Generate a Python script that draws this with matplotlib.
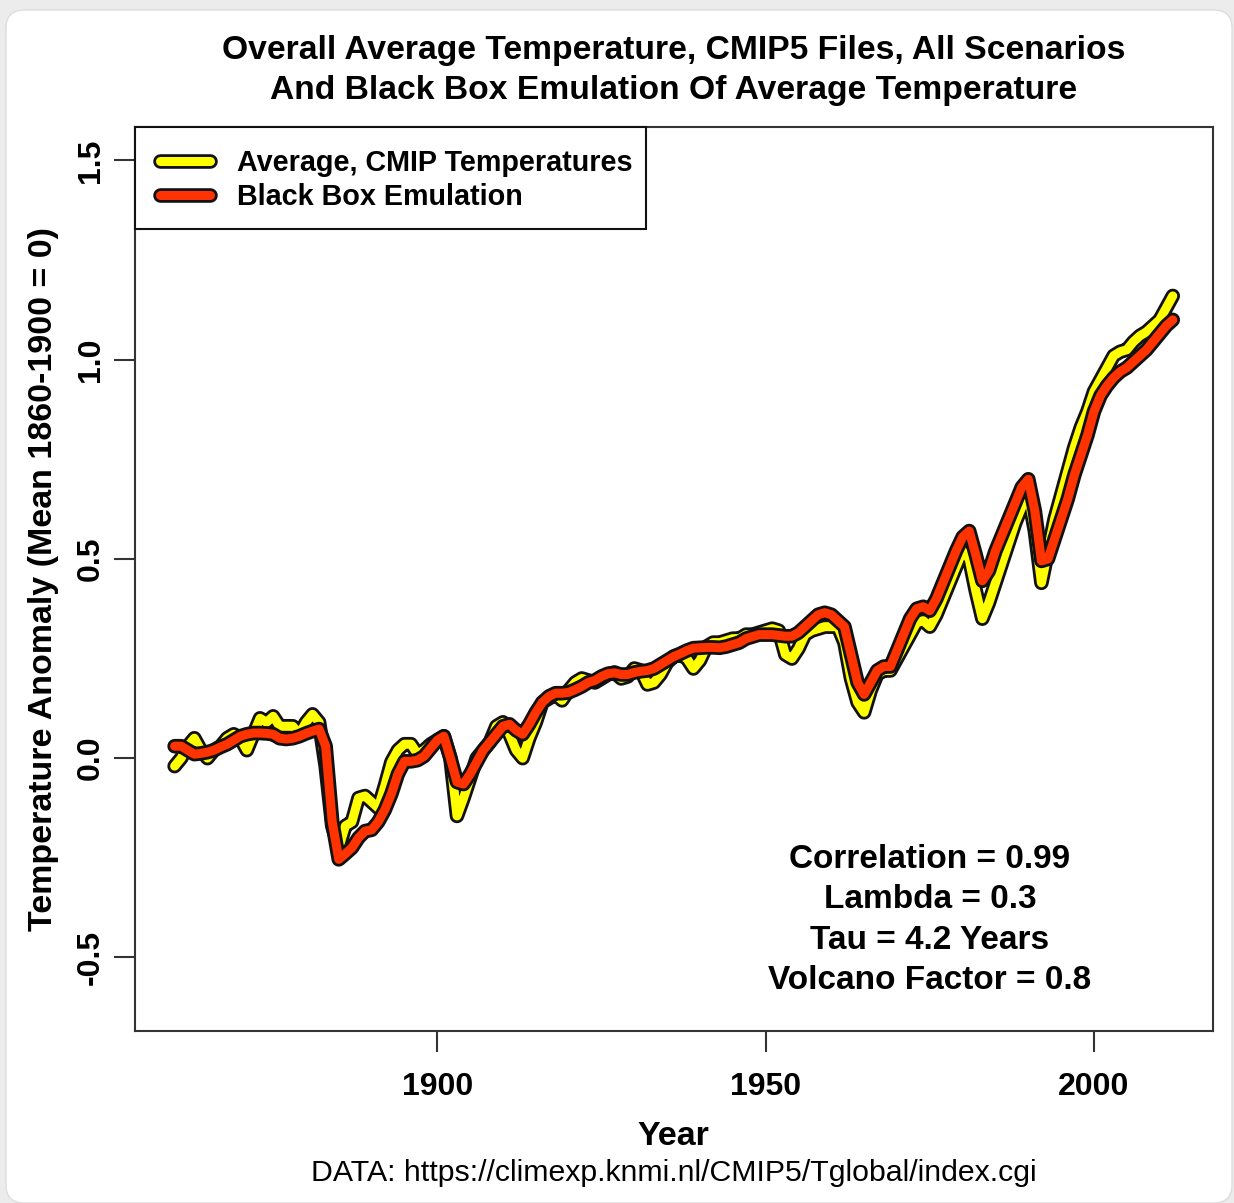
import matplotlib
matplotlib.use("Agg")
import matplotlib.pyplot as plt
import matplotlib.patheffects as pe
from matplotlib.lines import Line2D
from matplotlib.patches import FancyBboxPatch, Rectangle
import numpy as np

plt.rcParams['font.family'] = ['Liberation Sans', 'DejaVu Sans']

years = list(range(1860, 2013))

cmip_avg = [
    # 1860-1869
    -0.02, 0.00, 0.03, 0.05, 0.02, 0.00, 0.02, 0.03, 0.05, 0.06,
    # 1870-1879
    0.05, 0.02, 0.06, 0.10, 0.09, 0.105, 0.08, 0.08, 0.08, 0.06,
    # 1880-1889
    0.09, 0.11, 0.09, -0.02, -0.17, -0.225, -0.17, -0.16, -0.10, -0.095,
    # 1890-1899
    -0.11, -0.125, -0.07, -0.01, 0.02, 0.035, 0.035, 0.01, 0.02, 0.035,
    # 1900-1909
    0.045, 0.055, 0.00, -0.145, -0.10, -0.05, 0.00, 0.02, 0.04, 0.08,
    # 1910-1919
    0.09, 0.06, 0.02, 0.00, 0.05, 0.09, 0.14, 0.15, 0.16, 0.145,
    # 1920-1929
    0.17, 0.19, 0.20, 0.195, 0.19, 0.20, 0.21, 0.215, 0.20, 0.205,
    # 1930-1939
    0.225, 0.22, 0.185, 0.19, 0.21, 0.24, 0.255, 0.26, 0.25, 0.225,
    # 1940-1949
    0.245, 0.28, 0.29, 0.29, 0.295, 0.30, 0.30, 0.31, 0.31, 0.315,
    # 1950-1959
    0.32, 0.325, 0.32, 0.26, 0.25, 0.275, 0.31, 0.32, 0.325, 0.33,
    # 1960-1969
    0.33, 0.33, 0.29, 0.20, 0.14, 0.115, 0.17, 0.21, 0.22, 0.22,
    # 1970-1979
    0.25, 0.28, 0.31, 0.34, 0.345, 0.33, 0.36, 0.40, 0.44, 0.48,
    # 1980-1989
    0.52, 0.50, 0.42, 0.35, 0.39, 0.44, 0.49, 0.54, 0.59, 0.63,
    # 1990-1999
    0.66, 0.57, 0.44, 0.52, 0.60, 0.66, 0.72, 0.78, 0.83, 0.87,
    # 2000-2009
    0.92, 0.95, 0.98, 1.01, 1.02, 1.025, 1.045, 1.06, 1.07, 1.085,
    # 2010-2012
    1.10, 1.13, 1.16,
]

emulation = [
    # 1860-1869
    0.03, 0.03, 0.02, 0.01, 0.012, 0.015, 0.02, 0.028, 0.035, 0.045,
    # 1870-1879
    0.055, 0.06, 0.063, 0.063, 0.062, 0.06, 0.05, 0.048, 0.05, 0.055,
    # 1880-1889
    0.062, 0.068, 0.073, 0.03, -0.16, -0.254, -0.24, -0.225, -0.20, -0.183,
    # 1890-1899
    -0.18, -0.16, -0.13, -0.09, -0.04, -0.008, -0.008, -0.005, 0.005, 0.025,
    # 1900-1909
    0.045, 0.055, 0.00, -0.06, -0.065, -0.04, -0.01, 0.02, 0.04, 0.06,
    # 1910-1919
    0.08, 0.085, 0.07, 0.06, 0.085, 0.115, 0.14, 0.155, 0.163, 0.163,
    # 1920-1929
    0.165, 0.172, 0.18, 0.19, 0.195, 0.205, 0.212, 0.214, 0.21, 0.21,
    # 1930-1939
    0.215, 0.218, 0.22, 0.225, 0.235, 0.245, 0.255, 0.262, 0.27, 0.276,
    # 1940-1949
    0.277, 0.278, 0.278, 0.277, 0.28, 0.285, 0.29, 0.30, 0.305, 0.31,
    # 1950-1959
    0.31, 0.31, 0.308, 0.306, 0.306, 0.315, 0.33, 0.345, 0.36, 0.365,
    # 1960-1969
    0.36, 0.345, 0.33, 0.26, 0.19, 0.16, 0.19, 0.22, 0.23, 0.23,
    # 1970-1979
    0.27, 0.31, 0.35, 0.375, 0.38, 0.37, 0.40, 0.44, 0.48, 0.52,
    # 1980-1989
    0.555, 0.57, 0.51, 0.445, 0.47, 0.52, 0.56, 0.60, 0.64, 0.68,
    # 1990-1999
    0.70, 0.62, 0.495, 0.50, 0.55, 0.60, 0.65, 0.71, 0.76, 0.81,
    # 2000-2009
    0.87, 0.91, 0.935, 0.955, 0.97, 0.98, 0.995, 1.01, 1.025, 1.045,
    # 2010-2012
    1.065, 1.085, 1.10,
]

x_ticks = [1900, 1950, 2000]
y_ticks = [-0.5, 0.0, 0.5, 1.0, 1.5]
y_tick_labels = ["-0.5", "0.0", "0.5", "1.0", "1.5"]
series_labels = ["Average, CMIP Temperatures", "Black Box Emulation"]
series_colors = ["#FFFF00", "#FF3300"]
stats_text = "Correlation = 0.99\nLambda = 0.3\nTau = 4.2 Years\nVolcano Factor = 0.8"

W, H = 1234, 1203
fig = plt.figure(figsize=(W / 100, H / 100), dpi=100)
fig.patch.set_facecolor("#ececec")
card = FancyBboxPatch((6 / W, 0.0), (W - 8) / W, (H - 10) / H,
                      boxstyle="round,pad=0,rounding_size=0.015",
                      transform=fig.transFigure, facecolor="white",
                      edgecolor="#dddddd", linewidth=1.0, zorder=-10)
fig.patches.append(card)

ax_l, ax_r = 134.7, 1212.7
ax_t, ax_b = 127.0, 1030.7
ax_w, ax_h = ax_r - ax_l, ax_b - ax_t
ax = fig.add_axes([ax_l / W, 1 - ax_b / H, ax_w / W, ax_h / H])
ax.set_facecolor("white")
ax.set_zorder(1)

def afx(px):
    return (px - ax_l) / ax_w

def afy(py):
    return (ax_b - py) / ax_h

inner_w = 6.5
outer_w = 10.5
effects = [pe.Stroke(linewidth=outer_w, foreground="#111111"), pe.Normal()]
for vals, col in zip([cmip_avg, emulation], series_colors):
    ax.plot(years, vals, color=col, linewidth=inner_w, solid_capstyle="round",
            solid_joinstyle="round", path_effects=effects)

span = years[-1] - years[0]
ax.set_xlim(years[0] - 0.04 * span, years[-1] + 0.04 * span)
ax.set_ylim(-0.6 - 0.084, 1.5 + 0.084)

ax.set_xticks(x_ticks)
ax.set_xticklabels([str(t) for t in x_ticks], fontsize=23, fontweight="bold")
ax.set_yticks(y_ticks)
ax.set_yticklabels(y_tick_labels, fontsize=23, fontweight="bold", rotation=90, va="center")
ax.tick_params(axis="both", length=15, width=1.5, color="#333333")
ax.tick_params(axis="x", pad=14.5)
ax.tick_params(axis="y", pad=6)
for s in ax.spines.values():
    s.set_linewidth(1.5)
    s.set_color("#333333")

ax.set_xlabel("Year", fontsize=24.5, fontweight="bold", labelpad=14)
ax.set_ylabel("Temperature Anomaly (Mean 1860-1900 = 0)", fontsize=24.5,
              fontweight="bold", labelpad=12)

# legend box (drawn in axes coordinates)
ax.add_patch(Rectangle((afx(ax_l), afy(229)), afx(646) - afx(ax_l), 1 - afy(229),
                       transform=ax.transAxes, facecolor="white", edgecolor="#111111",
                       linewidth=1.5, zorder=5, clip_on=False))
for i, (lab, col) in enumerate(zip(series_labels, series_colors)):
    yy = afy(161 + 34 * i)
    ax.add_line(Line2D([afx(160), afx(210)], [yy, yy], transform=ax.transAxes,
                       color=col, linewidth=inner_w, solid_capstyle="round",
                       path_effects=effects, zorder=6))
    ax.text(afx(237), afy(163 + 34 * i), lab, transform=ax.transAxes, ha="left",
            va="center", fontsize=20.7, fontweight="bold", zorder=6)

ax.text(afx(930), afy(920), stats_text, transform=ax.transAxes, ha="center",
        va="center", fontsize=24, fontweight="bold", linespacing=1.38)

fig.text(673.7 / W, 1 - 50 / H, "Overall Average Temperature, CMIP5 Files, All Scenarios",
         ha="center", va="center", fontsize=24.2, fontweight="bold")
fig.text(673.7 / W, 1 - 90 / H, "And Black Box Emulation Of Average Temperature",
         ha="center", va="center", fontsize=24.2, fontweight="bold")
fig.text(673.7 / W, 1 - 1173 / H, "DATA: https://climexp.knmi.nl/CMIP5/Tglobal/index.cgi",
         ha="center", va="center", fontsize=21.8)

fig.savefig("out.png", dpi=100, facecolor=fig.get_facecolor())
